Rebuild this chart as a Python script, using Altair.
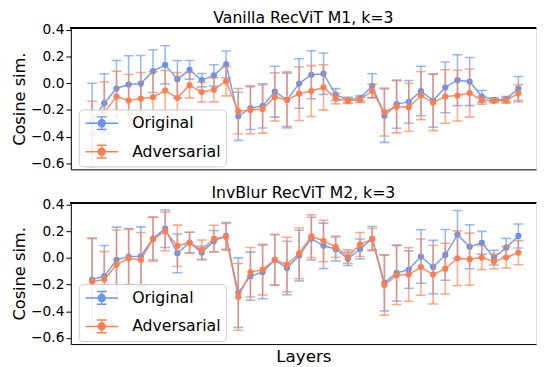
import altair as alt
import pandas as pd

layers = list(range(36))
series_names = ["Original", "Adversarial"]
series_colors = ["#6495ED", "#FF7F50"]
titles = ["Vanilla RecViT M1, k=3", "InvBlur RecViT M2, k=3"]
y_ticks = [-0.6, -0.4, -0.2, 0.0, 0.2, 0.4]

orig_m1 = [-0.285, -0.15, -0.04, -0.01, -0.003, 0.09, 0.137, 0.03, 0.10, 0.022, 0.058, 0.14,
           -0.248, -0.187, -0.17, -0.064, -0.125, -0.003, 0.063, 0.071, -0.086, -0.125, -0.113, -0.02,
           -0.243, -0.157, -0.14, -0.059, -0.13, -0.032, 0.022, 0.012, -0.1, -0.125, -0.12, -0.04]
orig_m1_std = [0.285, 0.22, 0.21, 0.215, 0.21, 0.16, 0.143, 0.14, 0.07, 0.05, 0.08, 0.1,
               0.18, 0.16, 0.165, 0.19, 0.2, 0.185, 0.18, 0.155, 0.045, 0.02, 0.02, 0.09,
               0.2, 0.18, 0.16, 0.185, 0.2, 0.19, 0.19, 0.18, 0.045, 0.015, 0.02, 0.09]
adv_m1 = [-0.38, -0.22, -0.10, -0.13, -0.115, -0.105, -0.055, -0.11, -0.015, -0.066, -0.05, 0.015,
          -0.21, -0.20, -0.194, -0.103, -0.125, -0.079, -0.059, -0.032, -0.115, -0.132, -0.125, -0.057,
          -0.216, -0.177, -0.18, -0.093, -0.145, -0.1, -0.093, -0.074, -0.128, -0.132, -0.13, -0.076]
adv_m1_std = [0.245, 0.23, 0.19, 0.195, 0.195, 0.19, 0.15, 0.19, 0.095, 0.075, 0.09, 0.11,
              0.17, 0.18, 0.18, 0.18, 0.21, 0.2, 0.19, 0.17, 0.04, 0.02, 0.02, 0.05,
              0.18, 0.195, 0.18, 0.18, 0.21, 0.2, 0.19, 0.18, 0.03, 0.015, 0.02, 0.065]

orig_m2 = [-0.162, -0.137, -0.015, 0.01, 0.012, 0.144, 0.218, 0.034, 0.115, 0.039, 0.125, 0.164,
           -0.26, -0.137, -0.106, -0.015, -0.076, 0.017, 0.144, 0.09, 0.066, -0.007, 0.066, 0.144,
           -0.187, -0.113, -0.088, 0.01, -0.069, 0.022, 0.174, 0.083, 0.113, 0.002, 0.076, 0.164]
orig_m2_std = [0.31, 0.23, 0.245, 0.21, 0.22, 0.16, 0.14, 0.145, 0.077, 0.05, 0.08, 0.1,
               0.26, 0.18, 0.2, 0.19, 0.2, 0.19, 0.16, 0.17, 0.09, 0.05, 0.075, 0.09,
               0.21, 0.21, 0.14, 0.2, 0.2, 0.19, 0.18, 0.165, 0.085, 0.055, 0.07, 0.09]
adv_m2 = [-0.177, -0.162, -0.051, -0.003, -0.015, 0.14, 0.198, 0.09, 0.113, 0.059, 0.144, 0.157,
          -0.292, -0.108, -0.088, -0.015, -0.051, 0.034, 0.162, 0.127, 0.083, 0.01, 0.1, 0.14,
          -0.204, -0.13, -0.125, -0.069, -0.125, -0.081, -0.003, -0.01, 0.002, -0.027, 0.004, 0.039]
adv_m2_std = [0.32, 0.21, 0.26, 0.215, 0.205, 0.165, 0.145, 0.155, 0.078, 0.075, 0.1, 0.1,
              0.25, 0.185, 0.19, 0.19, 0.205, 0.19, 0.16, 0.155, 0.08, 0.05, 0.09, 0.08,
              0.225, 0.22, 0.2, 0.21, 0.22, 0.19, 0.205, 0.195, 0.09, 0.055, 0.08, 0.09]

W = 474
H = 144
FONT = "DejaVu Sans"

LEGEND_PATH = ("M-2.06,0H2.06M0,-0.81V0.81M-0.62,-0.81H0.62M-0.62,0.81H0.62"
               "M-0.44,0A0.44,0.44 0 1,0 0.44,0A0.44,0.44 0 1,0 -0.44,0Z")


def make_df(orig, orig_std, adv, adv_std):
    rows = []
    for name, vals, stds in [("Original", orig, orig_std), ("Adversarial", adv, adv_std)]:
        for i, v, s in zip(layers, vals, stds):
            rows.append({"layer": i, "series": name, "value": v, "lo": v - s, "hi": v + s})
    return pd.DataFrame(rows)


def panel(title, df, bottom):
    legend = alt.Legend(
        orient="none", legendX=8, legendY=83, title=None,
        symbolType=LEGEND_PATH, symbolSize=256, symbolStrokeWidth=1.5, symbolOpacity=1,
        symbolOffset=9.5, labelOffset=22, labelFontSize=16, labelFont=FONT,
        labelColor="black", rowPadding=9, padding=5,
        fillColor="rgba(255,255,255,0.85)", strokeColor="#cccccc", cornerRadius=4,
    )
    cscale = alt.Scale(domain=series_names, range=series_colors)
    stroke_enc = alt.Stroke("series:N", scale=cscale, legend=legend)
    fill_enc = alt.Fill("series:N", scale=cscale, legend=legend)
    xenc = alt.X("layer:Q", scale=alt.Scale(domain=[-1.75, 36.45], nice=False, zero=False),
                 axis=alt.Axis(title="Layers" if bottom else None, labels=False, ticks=False,
                               grid=False, domainColor="black", domainWidth=1,
                               titleFontSize=17, titleFont=FONT, titleFontWeight="normal",
                               titleColor="black", titlePadding=5))
    yscale = alt.Scale(domain=[-0.645, 0.4125], nice=False, zero=False)
    yaxis = alt.Axis(title="Cosine sim.", values=y_ticks, format=".1f", grid=False,
                     labelFontSize=14, labelFont=FONT, labelColor="black",
                     tickSize=5, tickColor="black", domainColor="black", domainWidth=1,
                     titleFontSize=16.5, titleFont=FONT, titleFontWeight="normal",
                     titleColor="black", titlePadding=3)
    base = alt.Chart(df).encode(x=xenc)
    parts = []
    for s in series_names:
        sub = base.transform_filter(alt.datum.series == s)
        parts.append(sub.mark_rule(strokeWidth=1.6, opacity=0.65, clip=True).encode(
            y=alt.Y("lo:Q", scale=yscale, axis=yaxis), y2="hi:Q", stroke=stroke_enc))
        parts.append(sub.mark_rule(strokeWidth=1.6, opacity=0.65, xOffset=-5, x2Offset=5, clip=True).encode(
            x2="layer:Q", y=alt.Y("lo:Q", scale=yscale, axis=yaxis), stroke=stroke_enc))
        parts.append(sub.mark_rule(strokeWidth=1.6, opacity=0.65, xOffset=-5, x2Offset=5, clip=True).encode(
            x2="layer:Q", y=alt.Y("hi:Q", scale=yscale, axis=yaxis), stroke=stroke_enc))
        parts.append(sub.mark_line(strokeWidth=1.5, opacity=0.9, clip=True).encode(
            y=alt.Y("value:Q", scale=yscale, axis=yaxis), stroke=stroke_enc))
        parts.append(sub.mark_point(filled=True, size=40, opacity=1, clip=True).encode(
            y=alt.Y("value:Q", scale=yscale, axis=yaxis), fill=fill_enc))
    top_line = alt.Chart(df).mark_rule(color="black", strokeWidth=1).encode(
        x=alt.value(0), x2=alt.value(W), y=alt.value(0))
    parts.append(top_line)
    return alt.layer(*parts).properties(
        width=W, height=H,
        title=alt.TitleParams(title, fontSize=16, font=FONT, fontWeight="normal",
                              color="black", anchor="middle", offset=-3.5))


top = panel(titles[0], make_df(orig_m1, orig_m1_std, adv_m1, adv_m1_std), False)
bottom = panel(titles[1], make_df(orig_m2, orig_m2_std, adv_m2, adv_m2_std), True)

chart = alt.vconcat(top, bottom, spacing=13).resolve_legend(
    fill="independent", stroke="independent"
).properties(padding={"left": 3, "top": -2, "right": 0, "bottom": 0}).configure_view(
    stroke=None
).configure(font=FONT)

chart.save("out.html", embed_options={"renderer": "svg", "actions": False})
